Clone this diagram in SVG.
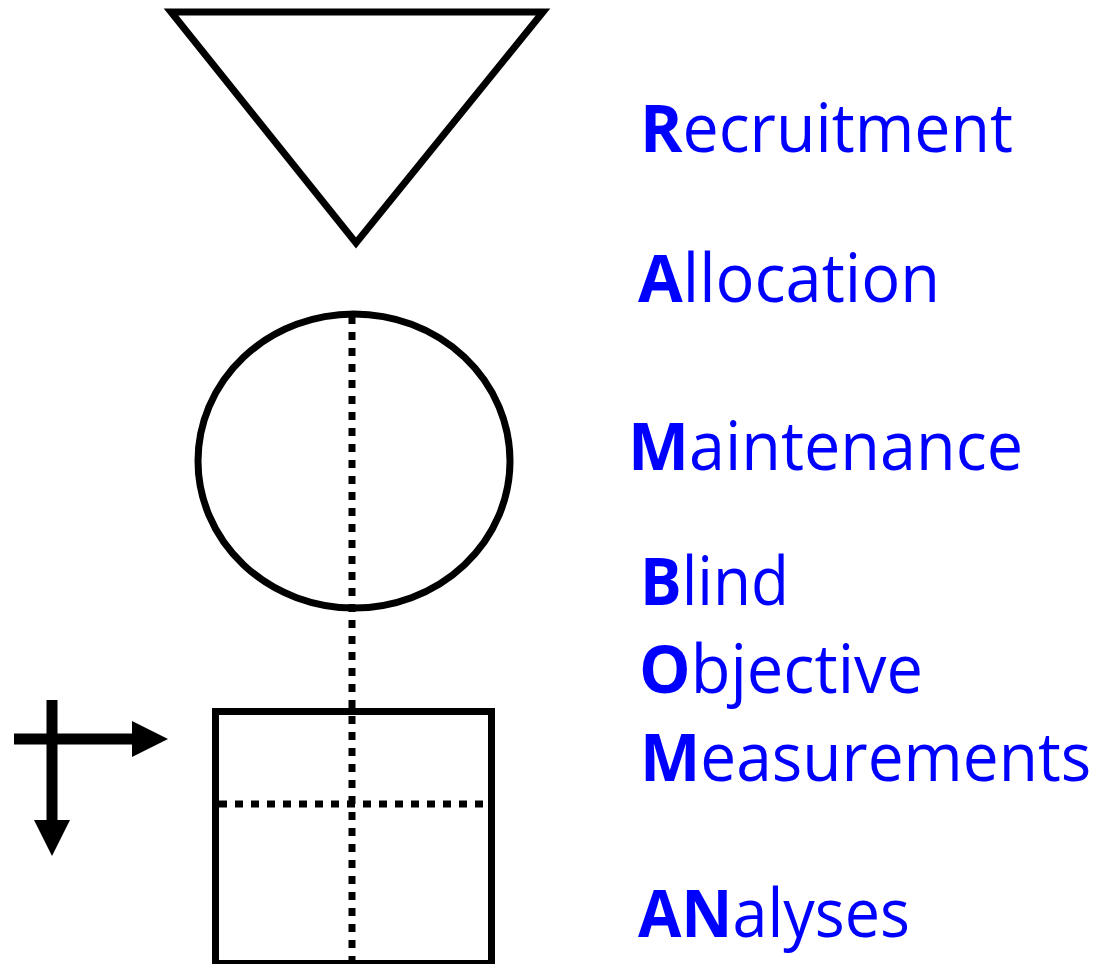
<svg xmlns="http://www.w3.org/2000/svg" width="1101" height="964" viewBox="0 0 1101 964">
<style>
.shape{fill:none;stroke:#000;stroke-width:7}
.dot{fill:none;stroke:#000;stroke-width:7;stroke-dasharray:8 8}
.arr{stroke:#000;stroke-width:11}
.lbl{font-family:"Open Sans","Noto Sans","Liberation Sans",sans-serif;font-size:67px;fill:#0000FF}
.b{font-weight:bold}
</style>
<rect width="1101" height="964" fill="#fff"/>
<g id="triangle"><polygon class="shape" points="171,12 543,12 356,243"/></g>
<g id="circle"><ellipse class="shape" cx="354" cy="461" rx="156" ry="147"/></g>
<g id="square"><rect class="shape" x="215.5" y="711.5" width="276" height="252"/></g>
<g id="connectors">
<line class="dot" x1="352" y1="316" x2="352" y2="964"/>
<line class="dot" x1="219" y1="804" x2="484" y2="804"/>
<line class="arr" x1="14" y1="739" x2="136" y2="739"/>
<polygon points="132,721 168,739 132,757" fill="#000"/>
<line class="arr" x1="52" y1="700" x2="52" y2="824"/>
<polygon points="34,820 70,820 52,856" fill="#000"/>
</g>
<g id="labels">
<text class="lbl" x="640" y="152" textLength="373" lengthAdjust="spacingAndGlyphs"><tspan class="b">R</tspan>ecruitment</text>
<text class="lbl" x="638" y="302" textLength="302" lengthAdjust="spacingAndGlyphs"><tspan class="b">A</tspan>llocation</text>
<text class="lbl" x="628" y="470" textLength="395" lengthAdjust="spacingAndGlyphs"><tspan class="b">M</tspan>aintenance</text>
<text class="lbl" x="640" y="605" textLength="149" lengthAdjust="spacingAndGlyphs"><tspan class="b">B</tspan>lind</text>
<text class="lbl" x="639" y="693" textLength="284" lengthAdjust="spacingAndGlyphs"><tspan class="b">O</tspan>bjective</text>
<text class="lbl" transform="translate(640 781) scale(0.955 1)"><tspan class="b">M</tspan>easurements</text>
<text class="lbl" x="638" y="937" textLength="272" lengthAdjust="spacingAndGlyphs"><tspan class="b">AN</tspan>alyses</text>
</g>
</svg>
